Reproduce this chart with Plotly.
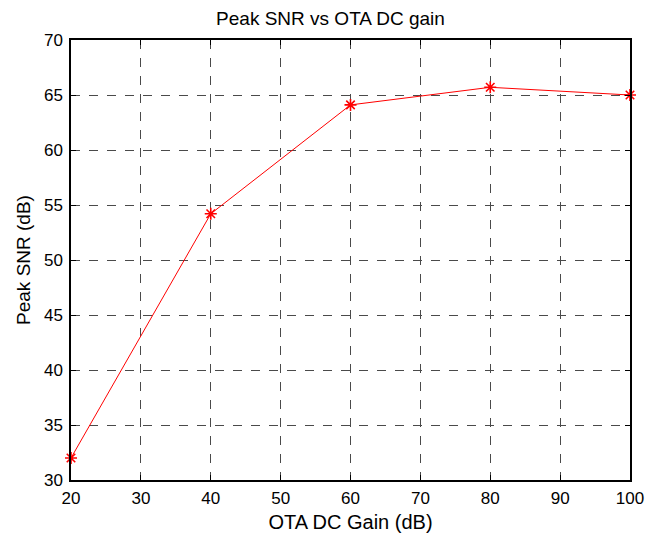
import plotly.graph_objects as go

gain_db = [20, 40, 60, 80, 100]
peak_snr = [32.0, 54.2, 64.1, 65.7, 65.0]

x_ticks = [20, 30, 40, 50, 60, 70, 80, 90, 100]
y_ticks = [30, 35, 40, 45, 50, 55, 60, 65, 70]

fig = go.Figure()
fig.add_trace(go.Scatter(
    x=gain_db, y=peak_snr, mode="lines+markers",
    line=dict(color="red", width=1),
    marker=dict(symbol="asterisk", size=10, color="red",
                line=dict(color="red", width=1.6)),
    cliponaxis=False, showlegend=False,
))

font = "Liberation Sans, Arial, Helvetica, sans-serif"
axis_common = dict(
    showline=True, linecolor="black", linewidth=1.5, mirror="allticks",
    ticks="inside", ticklen=5, tickcolor="black", tickwidth=1,
    showgrid=True, gridcolor="#4a4a4a", griddash="dash", gridwidth=1,
    zeroline=False, automargin=False,
    tickfont=dict(family=font, size=17, color="black"),
)

fig.update_layout(
    width=661, height=537,
    margin=dict(l=71, r=31, t=40, b=57),
    paper_bgcolor="white", plot_bgcolor="white",
    title=dict(text="Peak SNR vs OTA DC gain", x=0.5, xanchor="center",
               y=1 - 18 / 537, yanchor="middle",
               font=dict(family=font, size=19, color="black")),
    xaxis=dict(range=[20, 100], tickvals=x_ticks, ticklabelstandoff=2,
               title=dict(text="OTA DC Gain (dB)", standoff=8,
                          font=dict(family=font, size=20, color="black")),
               **axis_common),
    yaxis=dict(range=[30, 70], tickvals=y_ticks, ticklabelstandoff=3,
               title=dict(text="Peak SNR (dB)", standoff=8,
                          font=dict(family=font, size=19, color="black")),
               **axis_common),
)

fig.write_html("out.html")
